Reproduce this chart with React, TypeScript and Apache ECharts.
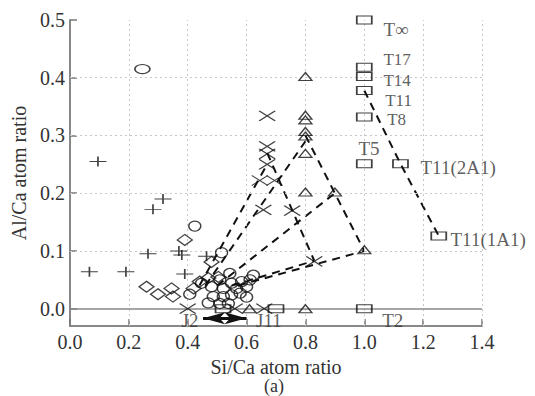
import React, { useEffect, useRef } from "react";
import * as echarts from "echarts";

const xTicks = [0, 0.2, 0.4, 0.6, 0.8, 1.0, 1.2, 1.4];
const yTicks = [0, 0.1, 0.2, 0.3, 0.4, 0.5];

const squares = [
  [1.0, 0.5], [1.0, 0.418], [1.0, 0.402], [1.0, 0.378], [1.0, 0.332], [1.0, 0.251],
  [1.0, 0.0], [1.123, 0.251], [1.253, 0.126], [0.52, 0.0], [0.7, 0.0],
];
const triangles = [
  [0.8, 0.402], [0.8, 0.335], [0.8, 0.327], [0.8, 0.307], [0.8, 0.299], [0.8, 0.269],
  [0.8, 0.202], [0.9, 0.202], [1.0, 0.102], [0.8, 0.0], [0.61, 0.0],
];
const crosses = [
  [0.67, 0.334], [0.67, 0.281], [0.67, 0.268], [0.67, 0.25], [0.645, 0.222], [0.695, 0.222],
  [0.657, 0.171], [0.755, 0.17], [0.83, 0.082], [0.4, 0.0], [0.56, 0.0], [0.66, 0.0],
];
const pluses = [
  [0.095, 0.255], [0.316, 0.19], [0.282, 0.172], [0.265, 0.095], [0.37, 0.1], [0.38, 0.093],
  [0.464, 0.091], [0.066, 0.064], [0.19, 0.064], [0.39, 0.06],
];
const bigCircles = [[0.246, 0.415]];
const circles = [
  [0.424, 0.143], [0.515, 0.097], [0.447, 0.044], [0.481, 0.038], [0.509, 0.05], [0.521, 0.035],
  [0.549, 0.044], [0.566, 0.035], [0.583, 0.047], [0.6, 0.038], [0.612, 0.05], [0.623, 0.058],
  [0.487, 0.021], [0.521, 0.021], [0.549, 0.024], [0.578, 0.027], [0.509, 0.009], [0.538, 0.009],
  [0.407, 0.025], [0.543, 0.061], [0.47, 0.01], [0.6, 0.02],
];
const diamonds = [
  [0.39, 0.119], [0.481, 0.081], [0.26, 0.038], [0.299, 0.025], [0.345, 0.035], [0.35, 0.021],
  [0.47, 0.053], [0.441, 0.047], [0.504, 0.055], [0.42, 0.035],
];

const dashA = [[0.44, 0.04], [0.67, 0.25]];
const dashB = [[0.46, 0.04], [0.8, 0.29]];
const dashC = [[0.5, 0.04], [0.9, 0.2]];
const dashD = [[0.55, 0.04], [0.83, 0.083]];
const dashE = [[0.57, 0.04], [1.0, 0.1]];
const dashF = [[0.8, 0.3], [0.9, 0.2], [1.0, 0.1]];
const dashG = [[0.67, 0.27], [0.83, 0.083]];
const dashH = [[1.0, 0.378], [1.123, 0.251], [1.253, 0.126]];

const labelsLeft = [
  { text: "T\u221e", x: 1.065, y: 0.483, size: 19 },
  { text: "T17", x: 1.065, y: 0.431, size: 17 },
  { text: "T14", x: 1.065, y: 0.395, size: 17 },
  { text: "T11", x: 1.071, y: 0.361, size: 17 },
  { text: "T8", x: 1.078, y: 0.327, size: 17 },
  { text: "T5", x: 0.98, y: 0.277, size: 19 },
  { text: "T11(2A1)", x: 1.191, y: 0.244, size: 19 },
  { text: "T11(1A1)", x: 1.293, y: 0.119, size: 19 },
  { text: "T2", x: 1.061, y: -0.02, size: 19 },
  { text: "J11", x: 0.632, y: -0.021, size: 19 },
];
const labelsCenter = [{ text: "J2", x: 0.408, y: -0.021, size: 19 }];
const arrowEnds = [[0.452, -0.0166], [0.6, -0.0166]];

const FONT = "'Liberation Serif', 'DejaVu Serif', serif";
const INK = "#111";
const CROSS = "path://M0,0L16,10M16,0L0,10";
const PLUS = "path://M8,0L8,10M0,5L16,5";

function markerSeries(data: number[][], symbol: string, size: number[]) {
  return {
    type: "scatter",
    data,
    symbol,
    symbolSize: size,
    itemStyle: { color: "rgba(0,0,0,0)", borderColor: INK, borderWidth: 1.3 },
    silent: true,
    z: 5,
  };
}
function dashSeries(data: number[][]) {
  return {
    type: "line",
    data,
    symbol: "none",
    lineStyle: { color: INK, width: 2, type: [8, 6] },
    silent: true,
    z: 4,
  };
}
function labelSeries(items: { text: string; x: number; y: number; size: number }[], align: string) {
  return {
    type: "scatter",
    symbol: "circle",
    symbolSize: 1,
    itemStyle: { color: "rgba(0,0,0,0)" },
    silent: true,
    z: 7,
    data: items.map((d) => ({
      value: [d.x, d.y],
      name: d.text,
      label: { fontSize: d.size, lineHeight: d.size - 1 },
    })),
    label: {
      show: true,
      position: "inside",
      align,
      verticalAlign: "middle",
      formatter: (p: any) => p.name,
      fontFamily: FONT,
      fontSize: 19,
      color: "#333",
    },
  };
}

export default function App() {
  const ref = useRef<HTMLDivElement>(null);
  useEffect(() => {
    if (!ref.current) return;
    const chart = echarts.init(ref.current, null, { renderer: "svg" });
    const gridX = xTicks.filter((v) => v > 0).map((v) => ({ xAxis: v }));
    const gridY = yTicks.filter((v) => v > 0 && v < 0.5).map((v) => ({ yAxis: v }));
    chart.setOption({
      animation: false,
      grid: { left: 70, right: 53, top: 20, bottom: 70 },
      xAxis: {
        type: "value",
        min: 0,
        max: 1.4,
        interval: 0.2,
        name: "Si/Ca atom ratio",
        nameLocation: "middle",
        nameGap: 24,
        nameTextStyle: { fontFamily: FONT, fontSize: 20, color: "#333", lineHeight: 20 },
        axisLine: { onZero: false, lineStyle: { color: "#888", width: 2 } },
        axisTick: { inside: true, length: 7, lineStyle: { color: "#777", width: 1.5 } },
        axisLabel: {
          fontFamily: FONT, fontSize: 20, color: "#333", margin: 6,
          formatter: (v: number) => v.toFixed(1),
        },
        splitLine: { show: false },
      },
      yAxis: {
        type: "value",
        min: -0.03,
        max: 0.5,
        name: "Al/Ca atom ratio",
        nameLocation: "middle",
        nameGap: 38,
        nameTextStyle: { fontFamily: FONT, fontSize: 20, color: "#333" },
        axisLine: { show: true, onZero: false, lineStyle: { color: "#888", width: 2 } },
        axisTick: { show: true, inside: true, length: 7, customValues: yTicks, lineStyle: { color: "#777", width: 1.5 } },
        axisLabel: {
          fontFamily: FONT, fontSize: 20, color: "#333", margin: 5,
          customValues: yTicks,
          formatter: (v: number) => v.toFixed(1),
        },
        splitLine: { show: false },
      },
      graphic: [
        {
          type: "text",
          left: 264,
          top: 377,
          style: { text: "(a)", font: `18px ${FONT}`, fill: "#333" },
        },
      ],
      series: [
        {
          type: "scatter",
          data: [],
          silent: true,
          markLine: {
            silent: true,
            symbol: "none",
            label: { show: false },
            lineStyle: { color: "#c8c8c8", width: 1, type: [2, 3] },
            data: [...gridX, ...gridY],
          },
        },
        {
          type: "scatter",
          data: [],
          silent: true,
          markLine: {
            silent: true,
            symbol: "none",
            label: { show: false },
            lineStyle: { color: "#888", width: 1.5, type: "solid" },
            data: [{ yAxis: 0 }],
          },
        },
        {
          type: "scatter",
          data: [],
          silent: true,
          z: 6,
          markLine: {
            silent: true,
            symbol: ["arrow", "arrow"],
            symbolSize: [9, 22],
            label: { show: false },
            lineStyle: { color: "#111", width: 3, type: "solid" },
            data: [[{ coord: arrowEnds[0] }, { coord: arrowEnds[1] }]],
          },
        },
        dashSeries(dashA),
        dashSeries(dashB),
        dashSeries(dashC),
        dashSeries(dashD),
        dashSeries(dashE),
        dashSeries(dashF),
        dashSeries(dashG),
        dashSeries(dashH),
        markerSeries(squares, "rect", [15, 8]),
        markerSeries(triangles, "triangle", [13, 8]),
        markerSeries(crosses, CROSS, [16, 10]),
        markerSeries(pluses, PLUS, [17, 10]),
        markerSeries(bigCircles, "circle", [15, 9]),
        markerSeries(circles, "circle", [12, 10]),
        markerSeries(diamonds, "diamond", [15, 11]),
        labelSeries(labelsLeft, "left"),
        labelSeries(labelsCenter, "center"),
      ],
    });
    return () => chart.dispose();
  }, []);
  return <div ref={ref} style={{ width: 535, height: 396, position: "absolute", left: 0, top: 0 }} />;
}
